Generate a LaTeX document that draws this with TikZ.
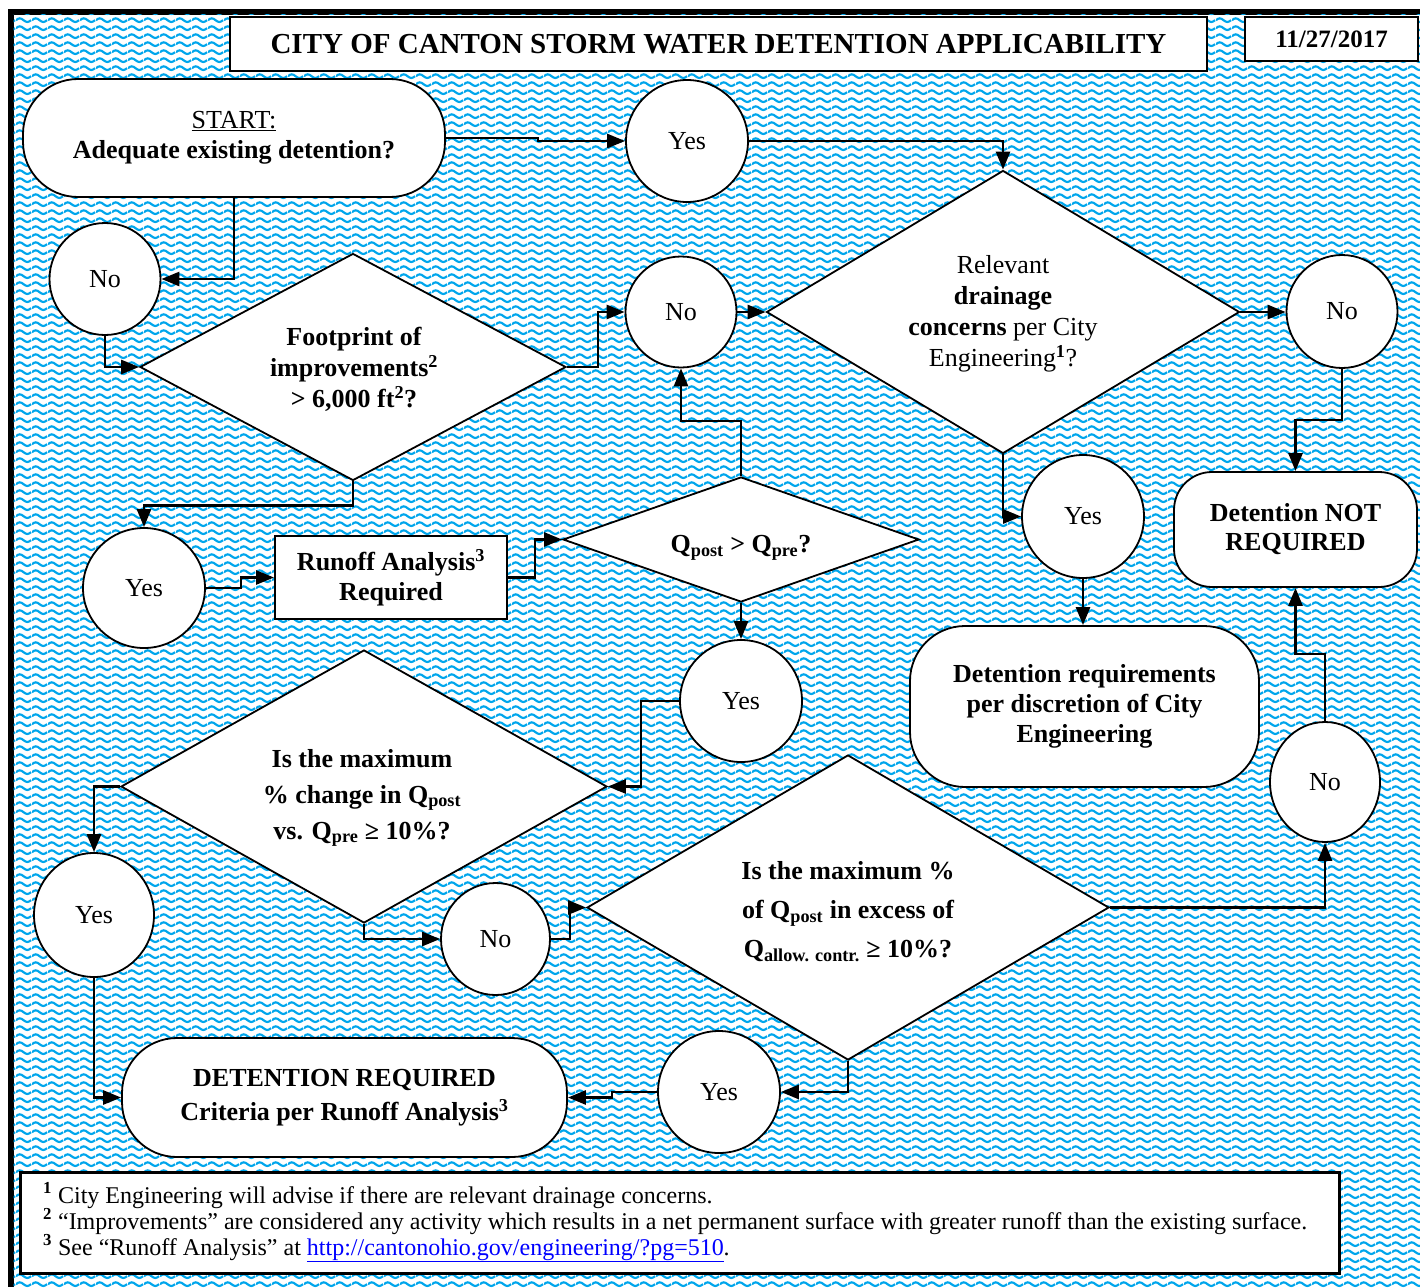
\documentclass[tikz,border=0pt]{standalone}
\usepackage{fontspec}
\setmainfont{Liberation Serif}
\usetikzlibrary{shapes.geometric,arrows.meta,patterns}
\definecolor{wavecyan}{RGB}{0,166,236}
\definecolor{linkblue}{RGB}{0,0,255}
\pgfdeclarepatternformonly{waves}{\pgfpointorigin}{\pgfqpoint{16pt}{8.3pt}}{\pgfqpoint{16pt}{8.3pt}}{%
  \pgfsetlinewidth{2.3pt}%
  \pgfpathmoveto{\pgfqpoint{0pt}{4.15pt}}%
  \pgfpathsine{\pgfqpoint{4pt}{2pt}}%
  \pgfpathcosine{\pgfqpoint{4pt}{-2pt}}%
  \pgfpathsine{\pgfqpoint{4pt}{-2pt}}%
  \pgfpathcosine{\pgfqpoint{4pt}{2pt}}%
  \pgfusepath{stroke}%
}
\tikzset{
  sz/.style 2 args={minimum width=#1pt, minimum height=#2pt},
  circ/.style={ellipse, draw, fill=white, line width=1.8pt, inner sep=0pt, font=\fontsize{26}{30}\selectfont},
  dia/.style={diamond, draw, fill=white, line width=1.8pt, inner sep=0pt},
  dtext/.style={align=center, inner sep=0pt, font=\fontsize{26}{31}\selectfont\bfseries},
  term/.style={rectangle, draw, fill=white, line width=1.8pt, inner sep=0pt, align=center, font=\fontsize{26}{30}\selectfont\bfseries},
  conn/.style={line width=2.7pt, -{Triangle[length=18pt,width=14pt]}},
  fn/.style={anchor=base west, inner sep=0pt, font=\fontsize{24}{26}\selectfont},
}
\begin{document}
\begin{tikzpicture}[x=1pt,y=-1pt]
\useasboundingbox (0,0) rectangle (1420,1287);
% background and frame
\fill[white] (0,0) rectangle (1420,1287);
\fill[black] (8,9.5) rectangle (1420,1287);
\fill[white] (13.5,15) rectangle (1420,1287);
\fill[pattern=waves, pattern color=wavecyan] (13.5,15) rectangle (1420,1287);

% header
\node[draw, fill=white, line width=2pt, sz={977}{54}, inner sep=0pt, font=\fontsize{29}{33}\selectfont\bfseries] (title) at (718.5,44) {CITY OF CANTON STORM WATER DETENTION APPLICABILITY};
\node[draw, fill=white, line width=2pt, sz={173}{44}, inner sep=0pt, font=\fontsize{25}{30}\selectfont\bfseries] (date) at (1331.5,39) {11/27/2017};

% terminals and boxes
\node[term, rounded corners=55pt, sz={422}{118}] (start) at (234,138) {{\mdseries\underline{START:}}\\Adequate existing detention?};
\node[term, line width=2pt, sz={232}{83}] (runoff) at (391,577.5) {Runoff Analysis\textsuperscript{3}\\Required};
\node[term, rounded corners=55pt, sz={349}{161}] (detdisc) at (1084.5,706.5) {Detention requirements\\per discretion of City\\Engineering};
\node[term, rounded corners=38pt, sz={243}{115}, font=\fontsize{26}{29}\selectfont\bfseries] (detnot) at (1295.5,529.5) {Detention NOT\\REQUIRED};
\node[term, rounded corners=55pt, sz={445}{119}, font=\fontsize{26}{34}\selectfont\bfseries] (detreq) at (344.5,1097.5) {DETENTION REQUIRED\\Criteria per Runoff Analysis\textsuperscript{3}};

% decisions
\node[dia, sz={473}{283}] (rel) at (1003,312) {};
\node[dtext, font=\fontsize{26}{31}\selectfont] (reltxt) at (1003,314) {Relevant\\\textbf{drainage}\\\textbf{concerns} per City\\Engineering\textsuperscript{\textbf{1}}?};
\node[dia, sz={426}{227}] (foot) at (353,367) {};
\node[dtext] (foottxt) at (354,369) {Footprint of\\improvements\textsuperscript{2}\\> 6,000 ft\textsuperscript{2}?};
\node[dia, sz={356}{125}] (q) at (741,539.5) {};
\node[dtext] (qtxt) at (741,548) {Q\textsubscript{post} > Q\textsubscript{pre}?};
\node[dia, sz={486}{273}] (ismax) at (364,786.5) {};
\node[dtext, font=\fontsize{26}{36}\selectfont\bfseries] (ismaxtxt) at (362,798) {Is the maximum\\\% change in Q\textsubscript{post}\\vs. Q\textsubscript{pre} ≥ 10\%?};
\node[dia, sz={522}{305}] (qa) at (848,907.5) {};
\node[dtext, font=\fontsize{26}{39}\selectfont\bfseries] (qatxt) at (848,912) {Is the maximum \%\\of Q\textsubscript{post} in excess of\\Q\textsubscript{allow. contr.} ≥ 10\%?};

% yes / no circles
\node[circ, sz={122}{122}] (yes1) at (687,141) {Yes};
\node[circ, sz={111}{112}] (no0) at (105,279) {No};
\node[circ, sz={111}{111}] (no1) at (681,312) {No};
\node[circ, sz={111}{113}] (no2) at (1342,311.5) {No};
\node[circ, sz={122}{120}] (yes2) at (144,588) {Yes};
\node[circ, sz={122}{123}] (yes4) at (1083,516.5) {Yes};
\node[circ, sz={122}{122}] (yes3) at (741,701) {Yes};
\node[circ, sz={110}{120}] (no3) at (1325,782) {No};
\node[circ, sz={120}{124}] (yes5) at (94,915) {Yes};
\node[circ, sz={109}{112}] (no4) at (495.5,939) {No};
\node[circ, sz={122}{122}] (yes6) at (719,1092) {Yes};

% connectors
\draw[conn] (start.east) -- ++(92,0) |- (yes1.west);
\draw[conn] (yes1.east) -| (rel.north);
\draw[conn] (start.south) |- (no0.east);
\draw[conn] (no0.south) |- (foot.west);
\draw[conn] (foot.east) -- ++(31,0) |- (no1.west);
\draw[conn] (no1.east) -- (rel.west);
\draw[conn] (rel.east) -- (rel.east -| no2.west);
\draw[conn] (foot.south) -- ++(0,24) -| (yes2.north);
\draw[conn] (yes2.east) -- ++(35,0) |- (runoff.west);
\draw[conn] (runoff.east) -- ++(27,0) |- (q.west);
\draw[conn] (q.north) -- ++(0,-55) -| (no1.south);
\draw[conn] (q.south) -- (yes3.north);
\draw[conn] (rel.south) |- (yes4.west);
\draw[conn] (yes4.south) -- (yes4.south |- detdisc.north);
\draw[conn] (no2.south) -- ++(0,51) -| (detnot.north);
\draw[conn] (no3.north) -- ++(0,-67) -| (detnot.south);
\draw[conn] (qa.east) -| (no3.south);
\draw[conn] (yes3.west) -- ++(-38,0) |- (ismax.east);
\draw[conn] (ismax.west) -| (yes5.north);
\draw[conn] (yes5.south) |- (detreq.west);
\draw[conn] (ismax.south) |- (no4.west);
\draw[conn] (no4.east) -- ++(19,0) |- (qa.west);
\draw[conn] (qa.south) |- (yes6.east);
\draw[conn] (yes6.west) -- ++(-45,0) |- (detreq.east);

% footnotes
\node[draw, line width=3pt, fill=white, sz={1319}{101}, inner sep=0pt] (notes) at (679.5,1222.5) {};
\node[fn] (fn1) at (43,1203) {{\bfseries\textsuperscript{1}} City Engineering will advise if there are relevant drainage concerns.};
\node[fn] (fn2) at (43,1229) {{\bfseries\textsuperscript{2}} “Improvements” are considered any activity which results in a net permanent surface with greater runoff than the existing surface.};
\node[fn] (fn3) at (43,1255) {{\bfseries\textsuperscript{3}} See “Runoff Analysis” at \textcolor{linkblue}{\underline{http://cantonohio.gov/engineering/?pg=510}}.};
\end{tikzpicture}
\end{document}
